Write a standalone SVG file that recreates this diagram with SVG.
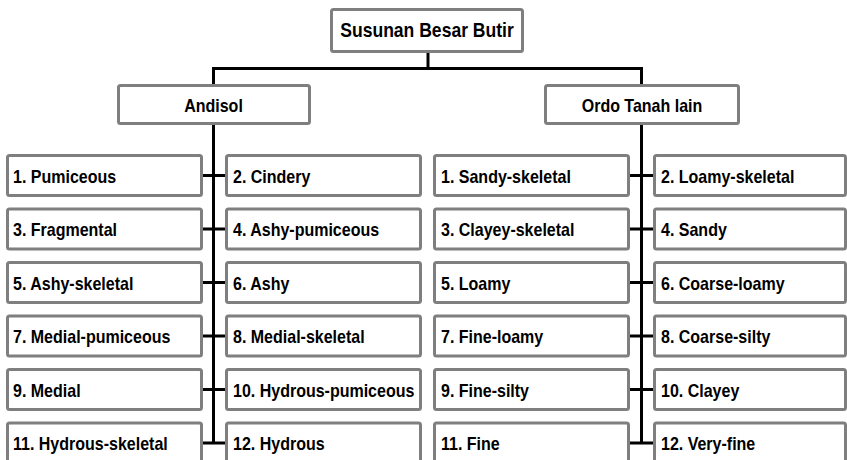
<svg xmlns="http://www.w3.org/2000/svg" width="847" height="460" viewBox="0 0 847 460">
<style>
rect.b{fill:#fff;stroke:#7f7f7f;stroke-width:3}
text{font-family:"Liberation Sans",Arial,sans-serif;font-weight:bold;fill:#000}
.t{font-size:18px}
.h{font-size:18px;text-anchor:middle}
.r{font-size:19.5px;text-anchor:middle}
.c path{stroke:#000;stroke-width:3;fill:none}
</style>
<rect width="847" height="460" fill="#fff"/>
<g class="c" id="connectors">
<path d="M428 52V68.5M213.5 68.5H641.5M213.5 67V84M641.5 67V84"/>
<path d="M213.5 125V444M641.5 124V444"/>
<path d="M203 175.5H225M203 229H225M203 282.5H225M203 336H225M203 389.5H225M203 443H225"/>
<path d="M630 175.5H653M630 229H653M630 282.5H653M630 336H653M630 389.5H653M630 443H653"/>
</g>
<g id="root"><rect class="b" x="331.5" y="9.5" width="191" height="42" rx="2"/><text class="r" transform="translate(427,37) scale(0.9,1)">Susunan Besar Butir</text></g>
<g id="andisol"><rect class="b" x="118.5" y="85.5" width="191" height="38" rx="2"/><text class="h" transform="translate(213.5,112) scale(0.89,1)">Andisol</text></g>
<g id="ordo"><rect class="b" x="545.5" y="85.5" width="193" height="38" rx="2"/><text class="h" transform="translate(642,112) scale(0.89,1)">Ordo Tanah lain</text></g>

<g id="a1"><rect class="b" x="7.5" y="155.5" width="194" height="40" rx="2"/><text class="t" transform="translate(13,182.5) scale(0.89,1)">1. Pumiceous</text></g>
<g id="a2"><rect class="b" x="226.5" y="155.5" width="194" height="40" rx="2"/><text class="t" transform="translate(233,182.5) scale(0.89,1)">2. Cindery</text></g>
<g id="a3"><rect class="b" x="7.5" y="209" width="194" height="40" rx="2"/><text class="t" transform="translate(13,236) scale(0.89,1)">3. Fragmental</text></g>
<g id="a4"><rect class="b" x="226.5" y="209" width="194" height="40" rx="2"/><text class="t" transform="translate(233,236) scale(0.89,1)">4. Ashy-pumiceous</text></g>
<g id="a5"><rect class="b" x="7.5" y="262.5" width="194" height="40" rx="2"/><text class="t" transform="translate(13,289.5) scale(0.89,1)">5. Ashy-skeletal</text></g>
<g id="a6"><rect class="b" x="226.5" y="262.5" width="194" height="40" rx="2"/><text class="t" transform="translate(233,289.5) scale(0.89,1)">6. Ashy</text></g>
<g id="a7"><rect class="b" x="7.5" y="316" width="194" height="40" rx="2"/><text class="t" transform="translate(13,343) scale(0.89,1)">7. Medial-pumiceous</text></g>
<g id="a8"><rect class="b" x="226.5" y="316" width="194" height="40" rx="2"/><text class="t" transform="translate(233,343) scale(0.89,1)">8. Medial-skeletal</text></g>
<g id="a9"><rect class="b" x="7.5" y="369.5" width="194" height="40" rx="2"/><text class="t" transform="translate(13,396.5) scale(0.89,1)">9. Medial</text></g>
<g id="a10"><rect class="b" x="226.5" y="369.5" width="194" height="40" rx="2"/><text class="t" transform="translate(233,396.5) scale(0.89,1)">10. Hydrous-pumiceous</text></g>
<g id="a11"><rect class="b" x="7.5" y="423" width="194" height="40" rx="2"/><text class="t" transform="translate(13,450) scale(0.89,1)">11. Hydrous-skeletal</text></g>
<g id="a12"><rect class="b" x="226.5" y="423" width="194" height="40" rx="2"/><text class="t" transform="translate(233,450) scale(0.89,1)">12. Hydrous</text></g>

<g id="o1"><rect class="b" x="434.5" y="155.5" width="194" height="40" rx="2"/><text class="t" transform="translate(441,182.5) scale(0.89,1)">1. Sandy-skeletal</text></g>
<g id="o2"><rect class="b" x="654.5" y="155.5" width="191" height="40" rx="2"/><text class="t" transform="translate(661,182.5) scale(0.89,1)">2. Loamy-skeletal</text></g>
<g id="o3"><rect class="b" x="434.5" y="209" width="194" height="40" rx="2"/><text class="t" transform="translate(441,236) scale(0.89,1)">3. Clayey-skeletal</text></g>
<g id="o4"><rect class="b" x="654.5" y="209" width="191" height="40" rx="2"/><text class="t" transform="translate(661,236) scale(0.89,1)">4. Sandy</text></g>
<g id="o5"><rect class="b" x="434.5" y="262.5" width="194" height="40" rx="2"/><text class="t" transform="translate(441,289.5) scale(0.89,1)">5. Loamy</text></g>
<g id="o6"><rect class="b" x="654.5" y="262.5" width="191" height="40" rx="2"/><text class="t" transform="translate(661,289.5) scale(0.89,1)">6. Coarse-loamy</text></g>
<g id="o7"><rect class="b" x="434.5" y="316" width="194" height="40" rx="2"/><text class="t" transform="translate(441,343) scale(0.89,1)">7. Fine-loamy</text></g>
<g id="o8"><rect class="b" x="654.5" y="316" width="191" height="40" rx="2"/><text class="t" transform="translate(661,343) scale(0.89,1)">8. Coarse-silty</text></g>
<g id="o9"><rect class="b" x="434.5" y="369.5" width="194" height="40" rx="2"/><text class="t" transform="translate(441,396.5) scale(0.89,1)">9. Fine-silty</text></g>
<g id="o10"><rect class="b" x="654.5" y="369.5" width="191" height="40" rx="2"/><text class="t" transform="translate(661,396.5) scale(0.89,1)">10. Clayey</text></g>
<g id="o11"><rect class="b" x="434.5" y="423" width="194" height="40" rx="2"/><text class="t" transform="translate(441,450) scale(0.89,1)">11. Fine</text></g>
<g id="o12"><rect class="b" x="654.5" y="423" width="191" height="40" rx="2"/><text class="t" transform="translate(661,450) scale(0.89,1)">12. Very-fine</text></g>
</svg>
